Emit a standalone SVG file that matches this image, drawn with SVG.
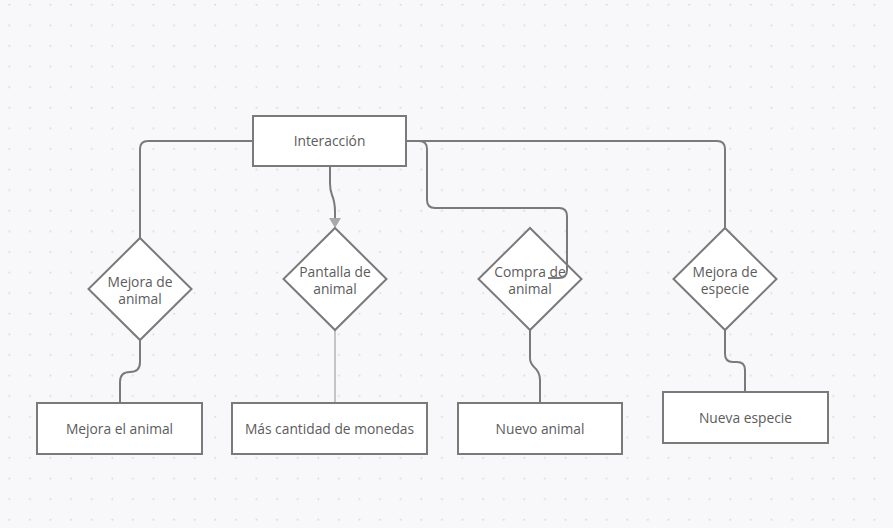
<svg xmlns="http://www.w3.org/2000/svg" width="893" height="528" viewBox="0 0 893 528">
<defs>
<pattern id="dots" x="6" y="2" width="20.6" height="20.6" patternUnits="userSpaceOnUse">
<circle cx="3.3" cy="2.7" r="1" fill="#dadade"/>
</pattern>
<style>
.shape{fill:#ffffff;stroke:#7a7a7a;stroke-width:2}
.conn{fill:none;stroke:#7a7a7a;stroke-width:2}
.light{fill:none;stroke:#c4c4c4;stroke-width:2}
.lbl{font-family:"Open Sans","Liberation Sans",sans-serif;font-size:13.8px;fill:#5c5c5c;text-anchor:middle}
</style>
</defs>
<rect width="893" height="528" fill="#f8f8fa"/>
<rect width="893" height="528" fill="url(#dots)"/>
<g id="connectors">
<path class="conn" d="M253 141 H148 Q140 141 140 149 V238"/>
<path class="conn" d="M330 166 V183 Q330 190 332 195 Q335 202 335 212 V218"/>
<polygon points="329,218 341,218 335,228" fill="#a8a8a8"/>
<path class="conn" d="M406 141 H419 Q427 141 427 149 V200 Q427 208 435 208 H559 Q567 208 567 216 V270 Q567 278 559 278 H548"/>
<path class="conn" d="M406 141 H717 Q725 141 725 149 V228"/>
<path class="conn" d="M140 340 V362 Q140 372 130 372 Q120 372 120 382 V403"/>
<path class="light" d="M335 330 V403"/>
<path class="conn" d="M530 330 V358 Q530 363 534 367 Q540 372 540 380 V403"/>
<path class="conn" d="M725 330 V354 Q725 362 733 362 H737 Q745 362 745 370 V392"/>
</g>
<g id="n-interaccion">
<rect class="shape" x="253" y="116" width="153" height="50"/>
<text class="lbl" x="329.5" y="146">Interacción</text>
</g>
<g id="d-mejora-animal">
<polygon class="shape" points="140,238 191.5,289 140,340 88.5,289"/>
<text class="lbl" x="140" y="286.5">Mejora de</text>
<text class="lbl" x="140" y="304">animal</text>
</g>
<g id="d-pantalla">
<polygon class="shape" points="335,228 386.5,279 335,330 283.5,279"/>
<text class="lbl" x="335" y="276.5">Pantalla de</text>
<text class="lbl" x="335" y="294">animal</text>
</g>
<g id="d-compra">
<polygon class="shape" points="530,228 581.5,279 530,330 478.5,279"/>
<text class="lbl" x="530" y="276.5">Compra de</text>
<text class="lbl" x="530" y="294">animal</text>
</g>
<path class="conn" d="M567 216 V270 Q567 278 559 278 H548"/>
<g id="d-mejora-especie">
<polygon class="shape" points="725,228 776.5,279 725,330 673.5,279"/>
<text class="lbl" x="725" y="276.5">Mejora de</text>
<text class="lbl" x="725" y="294">especie</text>
</g>
<g id="n-mejora-el-animal">
<rect class="shape" x="37" y="403" width="165" height="51"/>
<text class="lbl" x="119.5" y="434">Mejora el animal</text>
</g>
<g id="n-monedas">
<rect class="shape" x="232" y="403" width="195" height="51"/>
<text class="lbl" x="329.5" y="434">Más cantidad de monedas</text>
</g>
<g id="n-nuevo-animal">
<rect class="shape" x="458" y="403" width="164" height="51"/>
<text class="lbl" x="540" y="434">Nuevo animal</text>
</g>
<g id="n-nueva-especie">
<rect class="shape" x="663" y="392" width="165" height="51"/>
<text class="lbl" x="745.5" y="423">Nueva especie</text>
</g>
</svg>
